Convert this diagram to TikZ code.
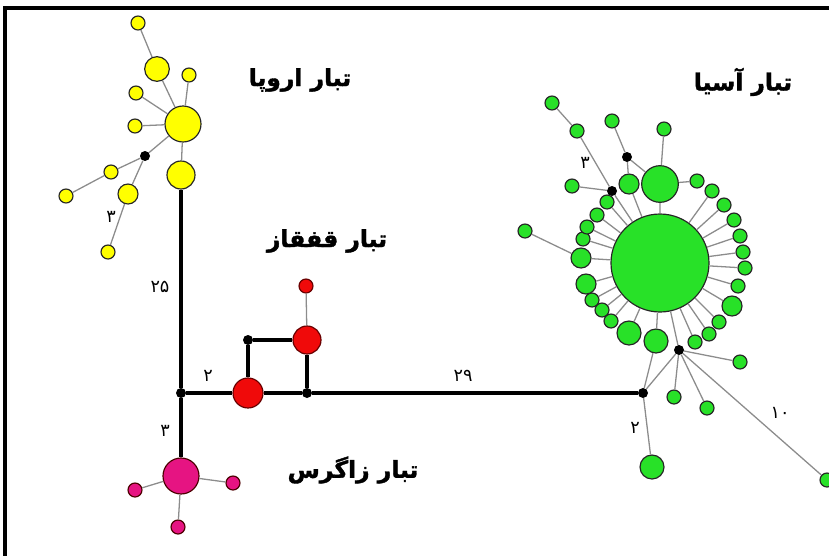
\documentclass[tikz,border=0pt]{standalone}
\usepackage{fontspec}
\newfontfamily\arabicfont[Script=Arabic]{DejaVu Sans}
\newfontfamily\titlefont[Script=Arabic, FakeBold=1.6]{DejaVu Sans Bold}
\TeXXeTstate=1
\definecolor{eurcol}{RGB}{255,255,0}
\definecolor{asiacol}{RGB}{40,225,40}
\definecolor{caucol}{RGB}{240,10,10}
\definecolor{zagcol}{RGB}{230,20,130}
\begin{document}
\begin{tikzpicture}[
    x=0.03cm, y=-0.03cm,
    % Styles
    hap/.style={circle, draw=black!85, line width=1pt, inner sep=0pt, minimum size=#1},
    eur/.style={hap=#1, fill=eurcol},
    asia/.style={hap=#1, fill=asiacol},
    cauc/.style={hap=#1, fill=caucol, draw=red!40!black},
    zag/.style={hap=#1, fill=zagcol, draw=red!30!black},
    mv/.style={circle, fill=black, inner sep=0pt, minimum size=0.3cm},
    link/.style={black!45, line width=1.1pt},
    trunk/.style={black, line width=3pt},
    lineage/.style={font=\titlefont\fontsize{20}{24}\selectfont},
    steps/.style={font=\arabicfont\fontsize{15}{18}\selectfont},
]
\useasboundingbox (0,0) rectangle (829,556);

% Frame
\draw[line width=2.6pt] (5,556) -- (5,8) -- (829,8);

% Europe
\node[eur=1.08cm] (yhub) at (183,124) {};
\node[eur=0.74cm] (ytop) at (157,69) {};
\node[eur=0.42cm] (ytip) at (138,23) {};
\node[eur=0.42cm] (yr) at (189,75) {};
\node[eur=0.42cm] (yl1) at (136,93) {};
\node[eur=0.42cm] (yl2) at (135,126) {};
\node[mv] (ydot) at (145,156) {};
\node[eur=0.42cm] (ym) at (111,172) {};
\node[eur=0.42cm] (yfar) at (66,196) {};
\node[eur=0.6cm] (ymd) at (128,194) {};
\node[eur=0.42cm] (ybt) at (108,252) {};
\node[eur=0.84cm] (ybot) at (181,175) {};
\draw[link] (ytip) -- (ytop) -- (yhub);
\draw[link] (yr) -- (yhub);
\draw[link] (yl1) -- (yhub);
\draw[link] (yl2) -- (yhub);
\draw[link] (yhub) -- (ydot) -- (ym) -- (yfar);
\draw[link] (ydot) -- (ymd) -- (ybt);
\draw[link] (yhub) -- (ybot);
\node[steps] at (111,217) {۳};
\node[lineage] at (300,80) {\beginR تبار اروپا\endR};

% Caucasus and main trunk
\node[mv] (j1) at (181,393) {};
\node[cauc=0.9cm] (rbig) at (248,393) {};
\node[mv] (j2) at (307,393) {};
\node[mv] (j3) at (643,393) {};
\node[mv] (rdot) at (248,340) {};
\node[cauc=0.84cm] (rmid) at (307,340) {};
\node[cauc=0.42cm] (rtip) at (306,286) {};
\draw[trunk] (ybot) -- (j1);
\draw[trunk] (j1) -- (rbig);
\draw[trunk] (rbig) -- (j2) -- (j3);
\draw[trunk] (rbig) -- (rdot) -- (rmid) -- (j2);
\draw[link] (rmid) -- (rtip);
\node[steps] at (160,287) {۲۵};
\node[steps] at (208,376) {۲};
\node[steps] at (463,376) {۲۹};
\node[lineage] at (327,241) {\beginR تبار قفقاز\endR};

% Zagros
\node[zag=1.08cm] (zhub) at (181,476) {};
\node[zag=0.42cm] (zl) at (135,490) {};
\node[zag=0.42cm] (zr) at (233,483) {};
\node[zag=0.42cm] (zb) at (178,527) {};
\draw[trunk] (j1) -- (zhub);
\draw[link] (zhub) -- (zl);
\draw[link] (zhub) -- (zr);
\draw[link] (zhub) -- (zb);
\node[steps] at (165,431) {۳};
\node[lineage] at (353,470) {\beginR تبار زاگرس\endR};

% Asia
\node[asia=2.94cm] (ghub) at (660,263) {};
\node[asia=1.1cm] (gtop) at (660,184) {};
\node[asia=0.42cm] (gtt) at (664,129) {};
\node[asia=0.42cm] (gtr) at (697,181) {};
\node[mv] (gd1) at (627,157) {};
\node[asia=0.42cm] (gd1u) at (612,121) {};
\node[asia=0.6cm] (gmd) at (629,184) {};
\node[mv] (gd2) at (612,191) {};
\node[asia=0.42cm] (gd2l) at (572,186) {};
\node[asia=0.42cm] (gd2u) at (577,131) {};
\node[asia=0.42cm] (gd2f) at (552,103) {};
\node[asia=0.6cm] (gl) at (581,258) {};
\node[asia=0.42cm] (gfl) at (525,231) {};
\draw[link] (gtt) -- (gtop) -- (ghub);
\draw[link] (gtop) -- (gtr);
\draw[link] (gd1u) -- (gd1) -- (gmd) -- (ghub);
\draw[link] (gd1) -- (gtop);
\draw[link] (gd2f) -- (gd2u) -- (gd2) -- (ghub);
\draw[link] (gd2l) -- (gd2);
\draw[link] (gfl) -- (gl) -- (ghub);
% ring round the main haplotype
\foreach \x/\y/\s [count=\i] in {
    712/191/0.42cm, 724/205/0.42cm, 734/220/0.42cm, 740/236/0.42cm,
    743/252/0.42cm, 745/268/0.42cm, 738/286/0.42cm, 732/306/0.6cm,
    719/322/0.42cm, 709/334/0.42cm, 695/342/0.42cm, 629/333/0.72cm,
    611/321/0.42cm, 602/310/0.42cm, 592/300/0.42cm, 586/284/0.6cm,
    583/239/0.42cm, 587/227/0.42cm, 597/215/0.42cm, 607/202/0.42cm}{
    \node[asia=\s] (g\i) at (\x,\y) {};
    \draw[link] (g\i) -- (ghub);
}
\node[asia=0.72cm] (gbm) at (656,341) {};
\node[mv] (gd3) at (679,350) {};
\node[asia=0.72cm] (gbt) at (652,467) {};
\node[asia=0.42cm] (gd3a) at (740,362) {};
\node[asia=0.42cm] (gd3b) at (674,397) {};
\node[asia=0.42cm] (gd3c) at (707,408) {};
\node[asia=0.42cm] (gd3f) at (827,480) {};
\draw[link] (gbm) -- (ghub);
\draw[link] (gd3) -- (ghub);
\draw[link] (j3) -- (gbm);
\draw[link] (j3) -- (gd3);
\draw[link] (j3) -- (gbt);
\draw[link] (gd3) -- (gd3a);
\draw[link] (gd3) -- (gd3b);
\draw[link] (gd3) -- (gd3c);
\draw[link] (gd3) -- (gd3f);
\node[steps] at (585,163) {۳};
\node[steps] at (635,428) {۲};
\node[steps] at (780,413) {۱۰};
\node[lineage] at (743,82) {\beginR تبار آسیا\endR};
\end{tikzpicture}
\end{document}
